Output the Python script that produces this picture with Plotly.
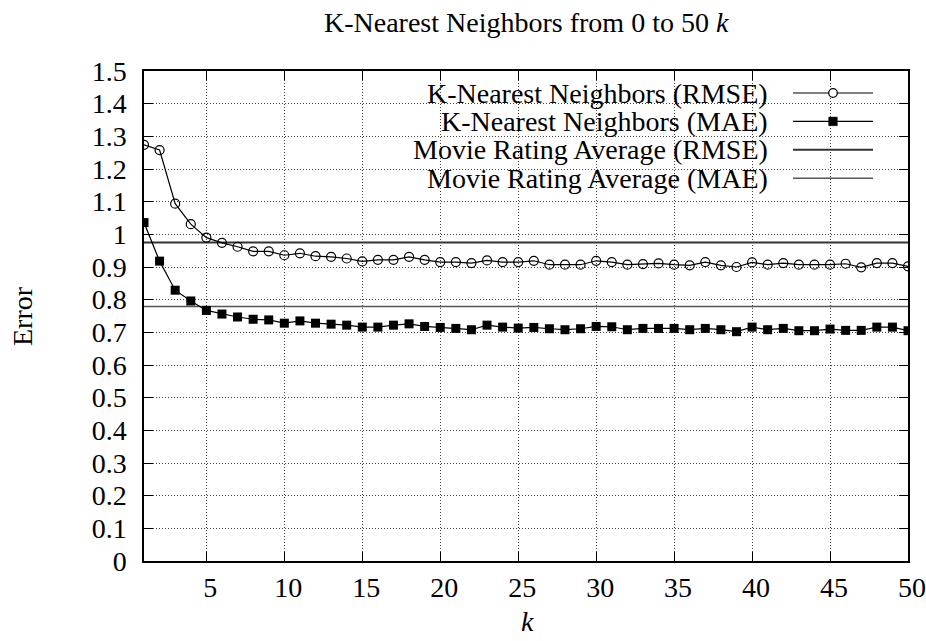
import plotly.graph_objects as go

k_values = list(range(1, 51))
knn_rmse = [1.274, 1.258, 1.094, 1.031, 0.990, 0.974, 0.962, 0.948, 0.948, 0.936,
            0.942, 0.933, 0.931, 0.926, 0.917, 0.922, 0.922, 0.931, 0.922, 0.915,
            0.915, 0.912, 0.920, 0.915, 0.915, 0.919, 0.907, 0.907, 0.907, 0.919,
            0.915, 0.907, 0.909, 0.911, 0.907, 0.905, 0.915, 0.905, 0.900, 0.914,
            0.907, 0.912, 0.907, 0.907, 0.907, 0.910, 0.899, 0.912, 0.912, 0.902]
knn_mae = [1.036, 0.918, 0.829, 0.796, 0.767, 0.756, 0.747, 0.740, 0.738, 0.728,
           0.735, 0.728, 0.725, 0.722, 0.716, 0.716, 0.722, 0.726, 0.718, 0.715,
           0.712, 0.708, 0.722, 0.716, 0.713, 0.715, 0.711, 0.708, 0.711, 0.718,
           0.717, 0.708, 0.712, 0.712, 0.712, 0.708, 0.712, 0.708, 0.702, 0.716,
           0.708, 0.712, 0.705, 0.705, 0.710, 0.706, 0.706, 0.716, 0.716, 0.705]
avg_rmse = 0.975
avg_mae = 0.779
k_span = [1, 50]

x_ticks = [5, 10, 15, 20, 25, 30, 35, 40, 45, 50]
y_ticks = [0, 0.1, 0.2, 0.3, 0.4, 0.5, 0.6, 0.7, 0.8, 0.9, 1.0, 1.1, 1.2, 1.3, 1.4, 1.5]
y_tick_text = ["0", "0.1", "0.2", "0.3", "0.4", "0.5", "0.6", "0.7", "0.8", "0.9",
               "1", "1.1", "1.2", "1.3", "1.4", "1.5"]

legend_labels = ["K-Nearest Neighbors (RMSE)", "K-Nearest Neighbors (MAE)",
                 "Movie Rating Average (RMSE)", "Movie Rating Average (MAE)"]

FONT = "Liberation Serif"
FS = 28
W, H = 926, 641
# plot area in page pixels: left 144, right 908, top 71, bottom 561
ML, MR, MT, MB = 144, W - 908, 71, H - 561
PW, PH = W - ML - MR, H - MT - MB


def px(x):  # page pixel -> paper
    return (x - ML) / PW


def py(y):
    return (H - MB - y) / PH


fig = go.Figure()
fig.add_trace(go.Scatter(x=k_span, y=[avg_rmse, avg_rmse], mode="lines",
                         line=dict(color="#333333", width=2), showlegend=False,
                         name=legend_labels[2]))
fig.add_trace(go.Scatter(x=k_span, y=[avg_mae, avg_mae], mode="lines",
                         line=dict(color="#555555", width=1.6), showlegend=False,
                         name=legend_labels[3]))
fig.add_trace(go.Scatter(x=k_values, y=knn_rmse, mode="lines+markers",
                         line=dict(color="black", width=1.2),
                         marker=dict(symbol="circle-open", size=9, color="black",
                                     line=dict(width=1.2, color="black")),
                         showlegend=False, name=legend_labels[0]))
fig.add_trace(go.Scatter(x=k_values, y=knn_mae, mode="lines+markers",
                         line=dict(color="black", width=1.2),
                         marker=dict(symbol="square", size=9, color="black"),
                         showlegend=False, name=legend_labels[1]))

shapes = []
shapes.append(dict(type="rect", xref="paper", yref="paper", x0=px(301), x1=1,
                   y0=py(196.5), y1=1, fillcolor="white", line=dict(width=0),
                   layer="between"))
annotations = []
row_y = [93, 121.4, 149.8, 178.2]
styles = [("#000000", 1.2), ("#000000", 1.2), ("#333333", 2), ("#555555", 1.6)]
for i, lab in enumerate(legend_labels):
    yy = py(row_y[i])
    annotations.append(dict(text=lab, x=px(770), y=yy, xref="paper", yref="paper",
                            xanchor="right", yanchor="middle", showarrow=False,
                            font=dict(family=FONT, size=FS, color="black")))
    c, w = styles[i]
    shapes.append(dict(type="line", xref="paper", yref="paper", x0=px(793), x1=px(873),
                       y0=yy, y1=yy, line=dict(color=c, width=w), layer="above"))
r = 4.3
yy = py(row_y[0])
shapes.append(dict(type="circle", xref="paper", yref="paper",
                   x0=px(833 - r), x1=px(833 + r), y0=yy - r / PH, y1=yy + r / PH,
                   fillcolor="white", line=dict(color="black", width=1.2), layer="above"))
yy = py(row_y[1])
shapes.append(dict(type="rect", xref="paper", yref="paper",
                   x0=px(833 - r), x1=px(833 + r), y0=yy - r / PH, y1=yy + r / PH,
                   fillcolor="black", line=dict(color="black", width=0.5), layer="above"))

annotations.append(dict(text="Error", x=px(22), y=0.5, xref="paper", yref="paper",
                        textangle=-90, xanchor="center", yanchor="middle", showarrow=False,
                        font=dict(family=FONT, size=FS, color="black")))
annotations.append(dict(text="<i>k</i>", x=px(527), y=py(621), xref="paper", yref="paper",
                        xanchor="center", yanchor="middle", showarrow=False,
                        font=dict(family=FONT, size=FS, color="black")))
annotations.append(dict(text="K-Nearest Neighbors from 0 to 50 <i>k</i>", x=px(526), y=py(23),
                        xref="paper", yref="paper", xanchor="center", yanchor="middle",
                        showarrow=False, font=dict(family=FONT, size=FS, color="black")))

axis_common = dict(showline=True, linecolor="black", linewidth=1.5, mirror="ticks",
                   ticks="inside", ticklen=9, tickwidth=1, tickcolor="black",
                   showgrid=True, gridcolor="#444444", gridwidth=1, griddash="1px,2px",
                   zeroline=False, automargin=False,
                   tickfont=dict(family=FONT, size=FS, color="black"))

fig.update_layout(
    width=W, height=H,
    margin=dict(l=ML, r=MR, t=MT, b=MB),
    paper_bgcolor="white", plot_bgcolor="white",
    font=dict(family=FONT, size=FS, color="black"),
    xaxis=dict(range=[1, 50], tickvals=x_ticks, ticklabelstandoff=1, ticklabelshift=4,
               ticklabeloverflow="allow", **axis_common),
    yaxis=dict(range=[0, 1.5], tickvals=y_ticks, ticktext=y_tick_text,
               ticklabelstandoff=10, **axis_common),
    shapes=shapes, annotations=annotations, showlegend=False,
)

fig.write_html("out.html", config={"displayModeBar": False},
               post_script="document.body.style.margin='0px';document.body.style.overflow='hidden';")
